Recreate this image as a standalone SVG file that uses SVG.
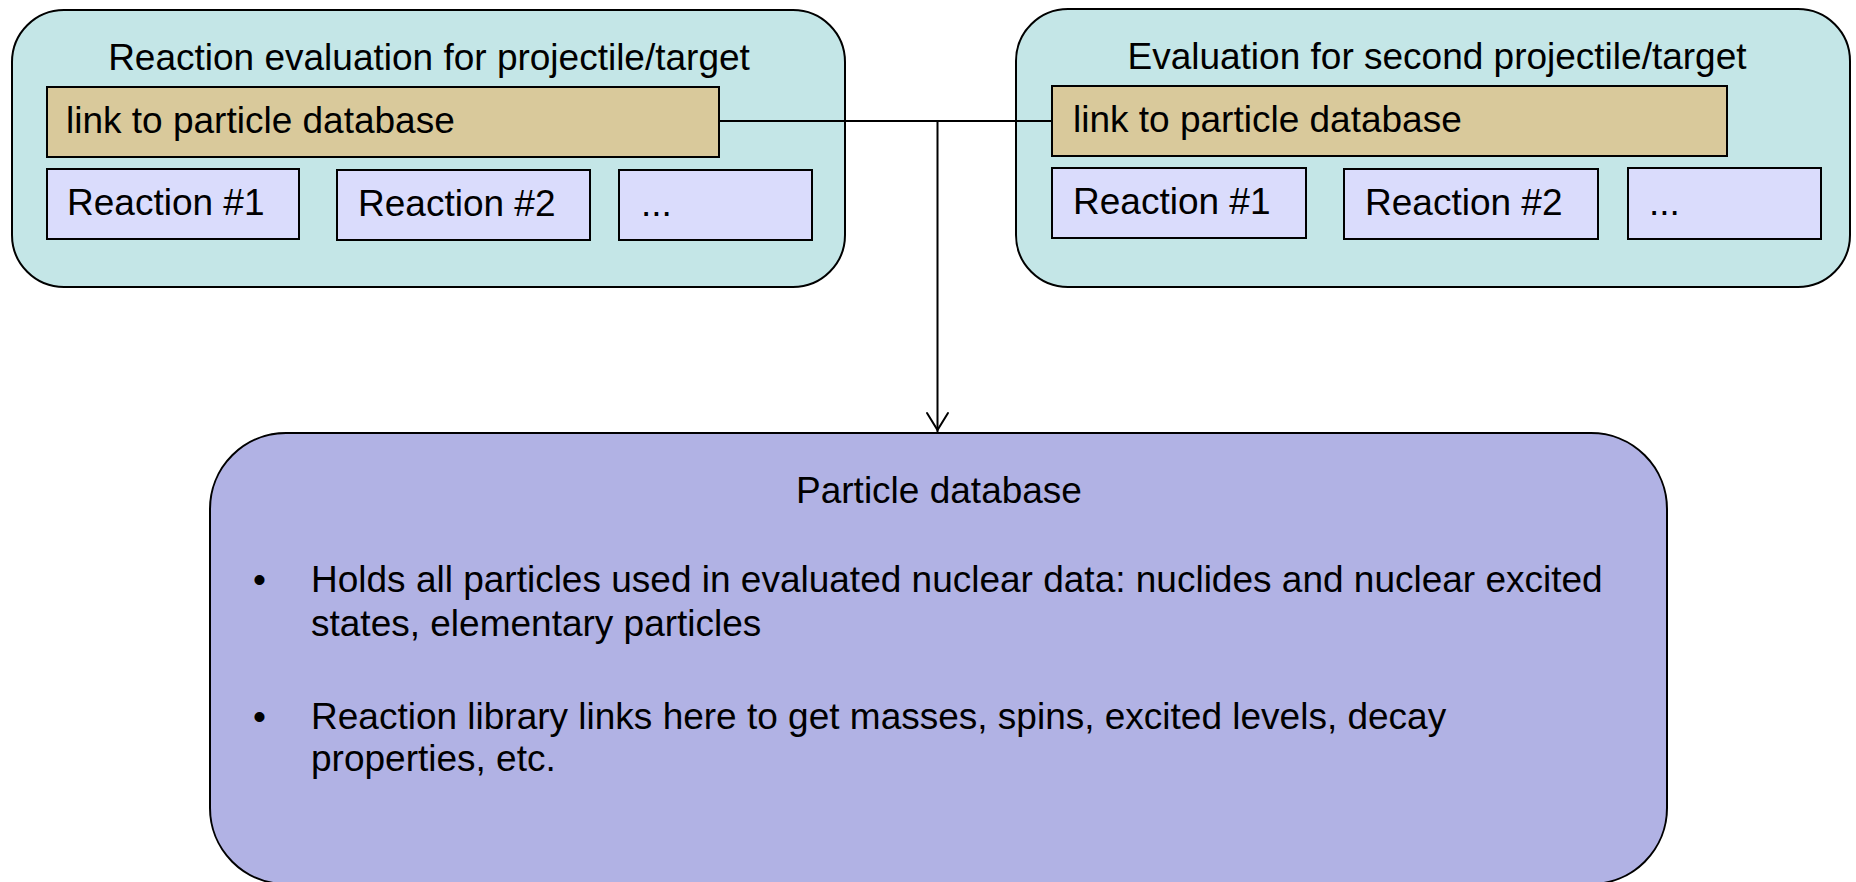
<svg xmlns="http://www.w3.org/2000/svg" width="1856" height="882" viewBox="0 0 1856 882">
<style>
.t{font-family:"Liberation Sans",Arial,sans-serif;font-size:37px;fill:#000}
.outer{fill:#C4E6E7;stroke:#000;stroke-width:2}
.link{fill:#D9C99B;stroke:#000;stroke-width:2}
.rx{fill:#DADCFC;stroke:#000;stroke-width:2}
.db{fill:#B1B2E4;stroke:#000;stroke-width:2}
.c{fill:none;stroke:#000;stroke-width:2}
</style>
<rect width="1856" height="882" fill="#fff"/>
<g id="eval1">
<rect class="outer" x="12" y="10" width="833" height="277" rx="52" ry="52"/>
<text class="t" x="429" y="70" text-anchor="middle">Reaction evaluation for projectile/target</text>
<rect class="link" x="47" y="87" width="672" height="70"/>
<text class="t" x="66" y="133">link to particle database</text>
<rect class="rx" x="47" y="169" width="252" height="70"/>
<text class="t" x="67" y="215">Reaction #1</text>
<rect class="rx" x="337" y="170" width="253" height="70"/>
<text class="t" x="358" y="216">Reaction #2</text>
<rect class="rx" x="619" y="170" width="193" height="70"/>
<text class="t" x="641" y="216">...</text>
</g>
<g id="eval2">
<rect class="outer" x="1016" y="9" width="834" height="278" rx="52" ry="52"/>
<text class="t" x="1437" y="69" text-anchor="middle">Evaluation for second projectile/target</text>
<rect class="link" x="1052" y="86" width="675" height="70"/>
<text class="t" x="1073" y="132">link to particle database</text>
<rect class="rx" x="1052" y="168" width="254" height="70"/>
<text class="t" x="1073" y="214">Reaction #1</text>
<rect class="rx" x="1344" y="169" width="254" height="70"/>
<text class="t" x="1365" y="215">Reaction #2</text>
<rect class="rx" x="1628" y="168" width="193" height="71"/>
<text class="t" x="1649" y="215">...</text>
</g>
<g id="particle-db">
<rect class="db" x="210" y="433" width="1457" height="451" rx="76" ry="76"/>
<text class="t" x="939" y="503" text-anchor="middle">Particle database</text>
<text class="t" x="253" y="592">•</text>
<text class="t" x="311" y="592">Holds all particles used in evaluated nuclear data: nuclides and nuclear excited</text>
<text class="t" x="311" y="636">states, elementary particles</text>
<text class="t" x="253" y="729">•</text>
<text class="t" x="311" y="729">Reaction library links here to get masses, spins, excited levels, decay</text>
<text class="t" x="311" y="771">properties, etc.</text>
</g>
<g id="connectors">
<path class="c" d="M719 121 H1052"/>
<path class="c" d="M937.5 121 V432"/>
<path class="c" d="M927 413 L937.5 430 L948 413" stroke-width="4.5" stroke-linecap="round" stroke-linejoin="miter"/>
</g>
</svg>
